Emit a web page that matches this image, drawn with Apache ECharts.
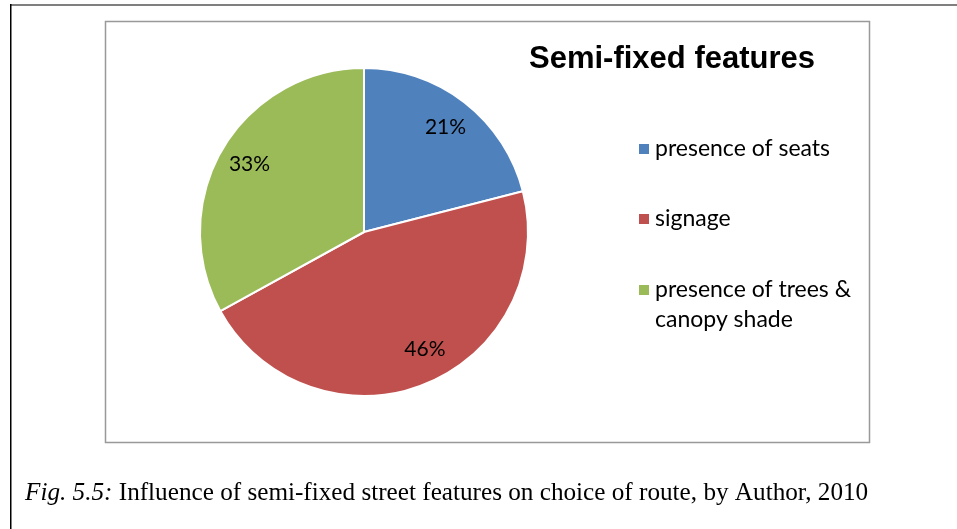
<!DOCTYPE html>
<html><head><meta charset="utf-8">
<script src="https://cdn.jsdelivr.net/npm/echarts@6/dist/echarts.min.js"></script>
<style>html,body{margin:0;padding:0;background:#fff}#c{width:957px;height:529px}</style>
</head><body><div id="c"></div>
<script>
const categories = ['presence of seats', 'signage', 'presence of trees & canopy shade'];
const legendLabels = ['presence of seats', 'signage', 'presence of trees &\ncanopy shade'];
const values = [21, 46, 33];
const colors = ['#4F81BD', '#C0504D', '#9BBB59'];
const titleText = 'Semi-fixed features';
const captionLead = 'Fig. 5.5:';
const captionRest = ' Influence of semi-fixed street features on choice of route, by Author, 2010';

const chart = echarts.init(document.getElementById('c'), null, {renderer: 'canvas'});
const pieData = categories.map((n, i) => ({name: n, value: values[i], itemStyle: {color: colors[i]}}));
const legendFmt = name => legendLabels[categories.indexOf(name)];
const legendText = {fontFamily: 'Lato', fontSize: 23, color: '#000', lineHeight: 30};
const legendBase = {
  orient: 'vertical', left: 637, padding: 0, itemGap: 0,
  itemWidth: 12, itemHeight: 12, icon: 'rect', selectedMode: false,
  formatter: legendFmt, textStyle: legendText
};
chart.setOption({
  animation: false,
  backgroundColor: '#fff',
  title: {
    text: titleText, left: 529, top: 44, padding: 0,
    textStyle: {fontFamily: 'Liberation Sans', fontWeight: 'bold', fontSize: 31, lineHeight: 30, color: '#000'}
  },
  legend: [
    Object.assign({}, legendBase, {data: [categories[0]], top: 134}),
    Object.assign({}, legendBase, {data: [categories[1]], top: 204}),
    Object.assign({}, legendBase, {data: [categories[2]], top: 275, itemHeight: 42,
      icon: 'path://M0,0h12v12h-12zM0,42h0.01'})
  ],
  graphic: [
    {type: 'rect', shape: {x: 10, y: 4, width: 947, height: 2}, style: {fill: '#7f7f7f'}, silent: true},
    {type: 'rect', shape: {x: 10, y: 4, width: 1.5, height: 525}, style: {fill: '#000'}, silent: true},
    {type: 'rect', shape: {x: 105.5, y: 21.5, width: 764, height: 421}, style: {fill: 'none', stroke: '#999', lineWidth: 1.5}, silent: true},
    {type: 'text', left: 25, top: 481, silent: true,
      style: {
        text: '{i|' + captionLead + '}{n|' + captionRest + '}',
        rich: {
          i: {fontFamily: 'Liberation Serif', fontStyle: 'italic', fontSize: 25.2, fill: '#000'},
          n: {fontFamily: 'Liberation Serif', fontSize: 25.2, fill: '#000'}
        }
      }}
  ],
  series: [
    {
      type: 'pie', center: [364, 232], radius: [0, 164], startAngle: 90, clockwise: true,
      silent: true, label: {show: false}, labelLine: {show: false},
      itemStyle: {borderColor: '#fff', borderWidth: 2},
      data: pieData
    },
    {
      type: 'pie', center: [364, 232], radius: [96, 164], startAngle: 90, clockwise: true,
      silent: true, labelLine: {show: false},
      itemStyle: {color: 'rgba(0,0,0,0)', borderWidth: 0},
      label: {show: true, position: 'inside', formatter: '{c}%', fontFamily: 'Lato', fontSize: 21, color: '#000'},
      data: categories.map((n, i) => ({
        name: n, value: values[i], itemStyle: {color: 'rgba(0,0,0,0)'},
        label: n === 'signage' ? {offset: [12, -6]} : {}
      }))
    }
  ]
});
</script></body></html>
